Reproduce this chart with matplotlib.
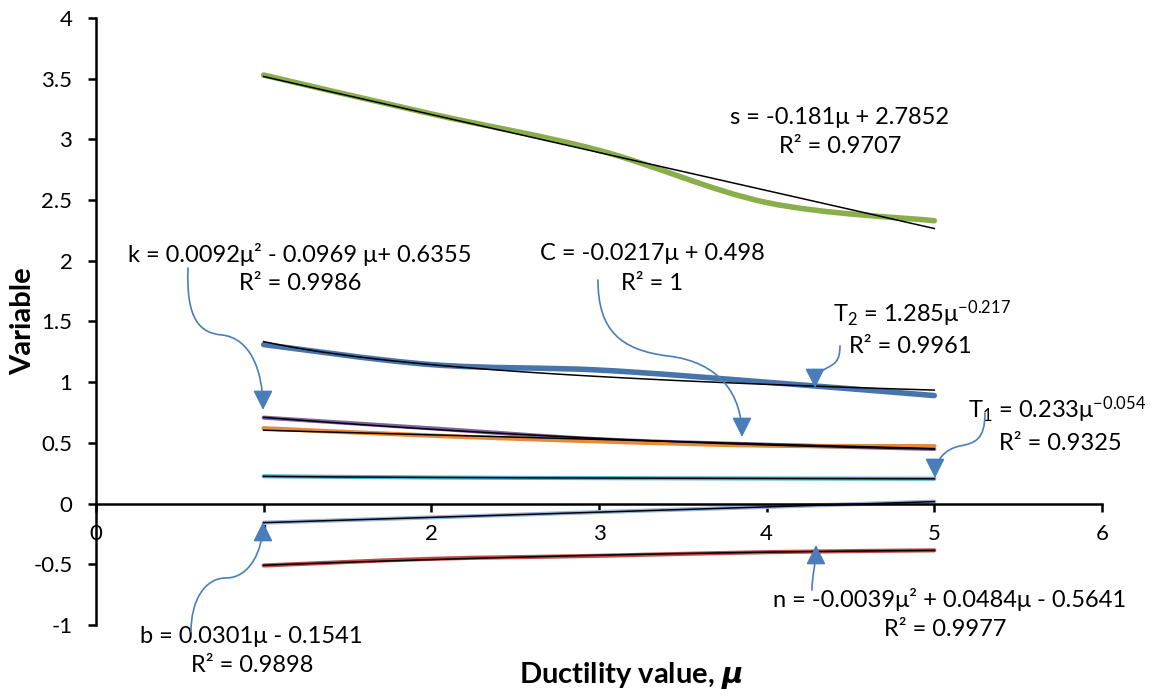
import numpy as np
import matplotlib
matplotlib.use("Agg")
import matplotlib.pyplot as plt
from matplotlib.path import Path
from matplotlib.patches import PathPatch, FancyArrowPatch

plt.rcParams['font.family'] = ['Lato', 'DejaVu Sans']
plt.rcParams['mathtext.fontset'] = 'custom'
plt.rcParams['mathtext.rm'] = 'Lato'
plt.rcParams['mathtext.it'] = 'Lato:italic'
plt.rcParams['mathtext.bf'] = 'Lato:bold'
plt.rcParams['mathtext.bfit'] = 'DejaVu Sans:italic:bold'

# ductility values and variables
mu = [1, 2, 3, 4, 5]
s_vals = [3.53, 3.21, 2.91, 2.48, 2.33]
T2_vals = [1.31, 1.145, 1.10, 1.00, 0.89]
k_vals = [0.708, 0.62, 0.53, 0.485, 0.45]
C_vals = [0.62, 0.56, 0.513, 0.478, 0.472]
T1_vals = [0.225, 0.215, 0.21, 0.207, 0.205]
b_vals = [-0.157, -0.114, -0.07, -0.027, 0.016]
n_vals = [-0.51, -0.455, -0.43, -0.40, -0.385]

xticks = [0, 1, 2, 3, 4, 5, 6]
yticks = [-1, -0.5, 0, 0.5, 1, 1.5, 2, 2.5, 3, 3.5, 4]

fig = plt.figure(figsize=(11.51, 6.98), dpi=100)
ax = fig.add_axes([0.0834, 0.1046, 0.874, 0.8696])
ax.set_xlim(0, 6)
ax.set_ylim(-1, 4)


def smooth_path(x, y):
    # excel style smoothed line as cubic bezier segments
    pts = np.column_stack([x, y]).astype(float)
    verts = [pts[0]]
    codes = [Path.MOVETO]
    n = len(pts)
    for i in range(n - 1):
        p0 = pts[max(i - 1, 0)]
        p1 = pts[i]
        p2 = pts[i + 1]
        p3 = pts[min(i + 2, n - 1)]
        c1 = p1 + (p2 - p0) / 6
        c2 = p2 - (p3 - p1) / 6
        verts += [c1, c2, p2]
        codes += [Path.CURVE4] * 3
    return Path(verts, codes)


def draw_series(y, color, lw):
    ax.add_patch(PathPatch(smooth_path(mu, y), fill=False, edgecolor=color,
                           lw=lw, capstyle='round', joinstyle='round', zorder=2))


draw_series(s_vals, '#8BAE4C', 4.0)
draw_series(T2_vals, '#4874AC', 4.0)
draw_series(k_vals, '#7E62A1', 3.0)
draw_series(C_vals, '#E7893B', 3.2)
draw_series(T1_vals, '#4DB2CC', 3.0)
draw_series(b_vals, '#98B6DB', 3.0)
draw_series(n_vals, '#BE4D4A', 3.0)

# trend lines
xx = np.linspace(1, 5, 60)
xa = np.array(mu, dtype=float)
for vals, kind in [(s_vals, 'lin'), (C_vals, 'lin'), (b_vals, 'lin'),
                   (k_vals, 'quad'), (n_vals, 'quad'),
                   (T2_vals, 'pow'), (T1_vals, 'pow')]:
    ya = np.array(vals)
    if kind == 'lin':
        yy = np.polyval(np.polyfit(xa, ya, 1), xx)
    elif kind == 'quad':
        yy = np.polyval(np.polyfit(xa, ya, 2), xx)
    else:
        p = np.polyfit(np.log(xa), np.log(ya), 1)
        yy = np.exp(p[1]) * xx ** p[0]
    ax.plot(xx, yy, color='black', lw=1.1, zorder=3)

# axes look (excel style, crossing at zero)
for side in ['top', 'right']:
    ax.spines[side].set_visible(False)
ax.spines['bottom'].set_position(('data', 0))
ax.spines['left'].set_position(('data', 0))
ax.spines['bottom'].set_linewidth(1.8)
ax.spines['left'].set_linewidth(1.8)
ax.set_xticks(xticks)
ax.set_yticks(yticks)
ax.set_yticklabels(['{:g}'.format(v) for v in yticks])
ax.tick_params(axis='x', direction='out', length=6, width=1.8, pad=9, labelsize=16)
ax.tick_params(axis='y', direction='out', length=6, width=1.8, pad=11, labelsize=16)

ax.set_xlabel(r'Ductility value, $\mathbfit{\mu}$', fontsize=21, fontweight='bold')
ax.set_ylabel('Variable', fontsize=21, fontweight='bold')
ax.xaxis.set_label_coords(0.532, -0.058)
ax.yaxis.set_label_coords(-0.059, 0.5)


def P(px, py):
    return ((px - 96) / 1006 * 6, 4 - (py - 18) / 607 * 5)


fs = 17
labels = [
    ((840, 117), 's = -0.181μ + 2.7852'),
    ((840, 146), 'R² = 0.9707'),
    ((300, 254), 'k = 0.0092μ² - 0.0969 μ+ 0.6355'),
    ((300, 284), 'R² = 0.9986'),
    ((652, 253), 'C = -0.0217μ + 0.498'),
    ((652, 283), 'R² = 1'),
    ((922, 314), r'T$_2$ = 1.285μ$^{-0.217}$'),
    ((910, 347), 'R² = 0.9961'),
    ((1057, 410), r'T$_1$ = 0.233μ$^{-0.054}$'),
    ((1060, 444), 'R² = 0.9325'),
    ((950, 600), 'n = -0.0039μ² + 0.0484μ - 0.5641'),
    ((945, 630), 'R² = 0.9977'),
    ((251, 637), 'b = 0.0301μ - 0.1541'),
    ((252, 666), 'R² = 0.9898'),
]
for (px, py), txt in labels:
    x, y = P(px, py)
    ax.text(x, y, txt, fontsize=fs, ha='center', va='center', zorder=5,
            clip_on=False)

# curved callout arrows
arrows = [
    [(188, 268), (186, 320), (200, 333), (222, 335), (250, 338), (263, 370), (263, 410)],
    [(598, 280), (598, 330), (620, 350), (668, 356), (720, 362), (742, 395), (742, 437)],
    [(840, 346), (840, 362), (834, 364), (827, 368), (818, 372), (815, 380), (815, 388)],
    [(985, 413), (985, 440), (975, 443), (960, 446), (945, 449), (935, 460), (935, 478)],
    [(191, 632), (191, 600), (205, 578), (226, 578), (250, 578), (263, 550), (263, 522)],
    [(812, 590), (812, 575), (816, 565), (816, 545)],
]
for pts in arrows:
    verts = [P(*p) for p in pts]
    codes = [Path.MOVETO] + [Path.CURVE4] * (len(verts) - 1)
    arr = FancyArrowPatch(path=Path(verts, codes),
                          arrowstyle='-|>,head_length=0.8,head_width=0.4',
                          mutation_scale=15, color='#4A7EBB', lw=1.2,
                          zorder=6, clip_on=False)
    ax.add_patch(arr)

fig.savefig('out.png', dpi=100)
